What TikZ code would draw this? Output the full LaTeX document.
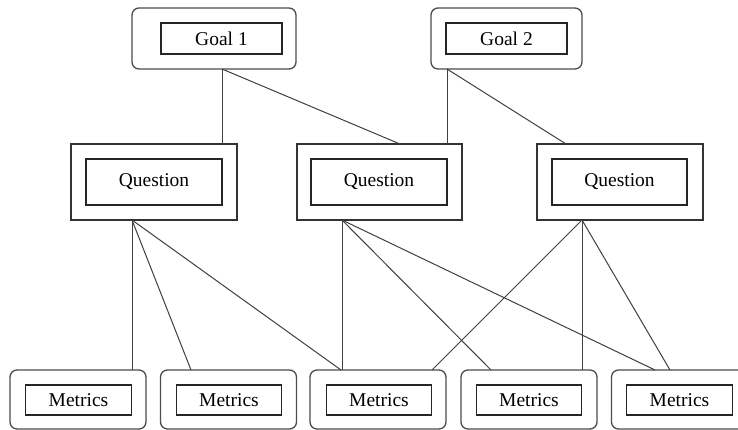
\documentclass[tikz,border=0pt]{standalone}
\usepackage{fontspec}
\setmainfont{Liberation Serif}
\begin{document}
\begin{tikzpicture}[x=1pt,y=-1pt,
  every node/.style={inner sep=0pt, outer sep=0pt},
  roundbox/.style={draw=black!70, line width=1.3pt, rounded corners=7pt},
  squarebox/.style={draw=black!80, line width=1.3pt},
  label/.style={draw=black!85, line width=1.2pt, font=\fontsize{19.5}{21}\selectfont},
  link/.style={draw=black!75, line width=1pt}]
\useasboundingbox (0,0) rectangle (738,430);
\clip (0,0) rectangle (738,430);
\fill[white] (0,0) rectangle (738,430);

% goals
\node[roundbox, minimum width=164, minimum height=61] (g1) at (214,38.5) {};
\node[label, minimum width=121, minimum height=31] (g1i) at (221.5,38.5) {Goal 1};
\node[roundbox, minimum width=151, minimum height=61] (g2) at (506.5,38.5) {};
\node[label, minimum width=121, minimum height=31] (g2i) at (506.5,38.5) {Goal 2};

% questions
\node[squarebox, minimum width=166, minimum height=76] (q1) at (154,182) {};
\node[label, minimum width=136, minimum height=46] (q1i) at (154,182) {Question};
\node[squarebox, minimum width=165, minimum height=76] (q2) at (379.5,182) {};
\node[label, minimum width=136, minimum height=46] (q2i) at (379,182) {Question};
\node[squarebox, minimum width=166, minimum height=76] (q3) at (620,182) {};
\node[label, minimum width=135, minimum height=46] (q3i) at (619.5,182) {Question};

% metrics
\foreach \n/\cx/\ix in {1/78/78.5, 2/228.5/229, 3/378/379, 4/529/529, 5/679.5/679.5} {
  \node[roundbox, minimum width=136, minimum height=59] (m\n) at (\cx,399.5) {};
  \node[label, minimum width=105.5, minimum height=30] (m\n i) at (\ix,400) {Metrics};
}

% attachment points
\coordinate (g1b) at (g1.south -| q1i.east);
\coordinate (g2b) at (g2.south -| q2i.east);
\coordinate (q1b) at ([xshift=-22]q1.south);
\coordinate (q2b) at ([xshift=-37.5]q2.south);
\coordinate (q3b) at ([xshift=-38]q3.south);

% goal to question links
\draw[link] (g1b) -- (q1.north -| g1b);
\draw[link] (g1b) -- ([xshift=20.5]q2.north);
\draw[link] (g2b) -- (q2.north -| g2b);
\draw[link] (g2b) -- ([xshift=-54]q3.north);

% question to metrics links
\draw[link] (q1b) -- (m1.north -| q1b);
\draw[link] (q1b) -- ([xshift=-37.5]m2.north);
\draw[link] (q1b) -- ([xshift=-37]m3.north);
\draw[link] (q2b) -- (m3.north -| q2b);
\draw[link] (q2b) -- ([xshift=-38]m4.north);
\draw[link] (q2b) -- ([xshift=-24.5]m5.north);
\draw[link] (q3b) -- ([xshift=54]m3.north);
\draw[link] (q3b) -- (m4.north -| q3b);
\draw[link] (q3b) -- ([xshift=-9.5]m5.north);
\end{tikzpicture}
\end{document}
